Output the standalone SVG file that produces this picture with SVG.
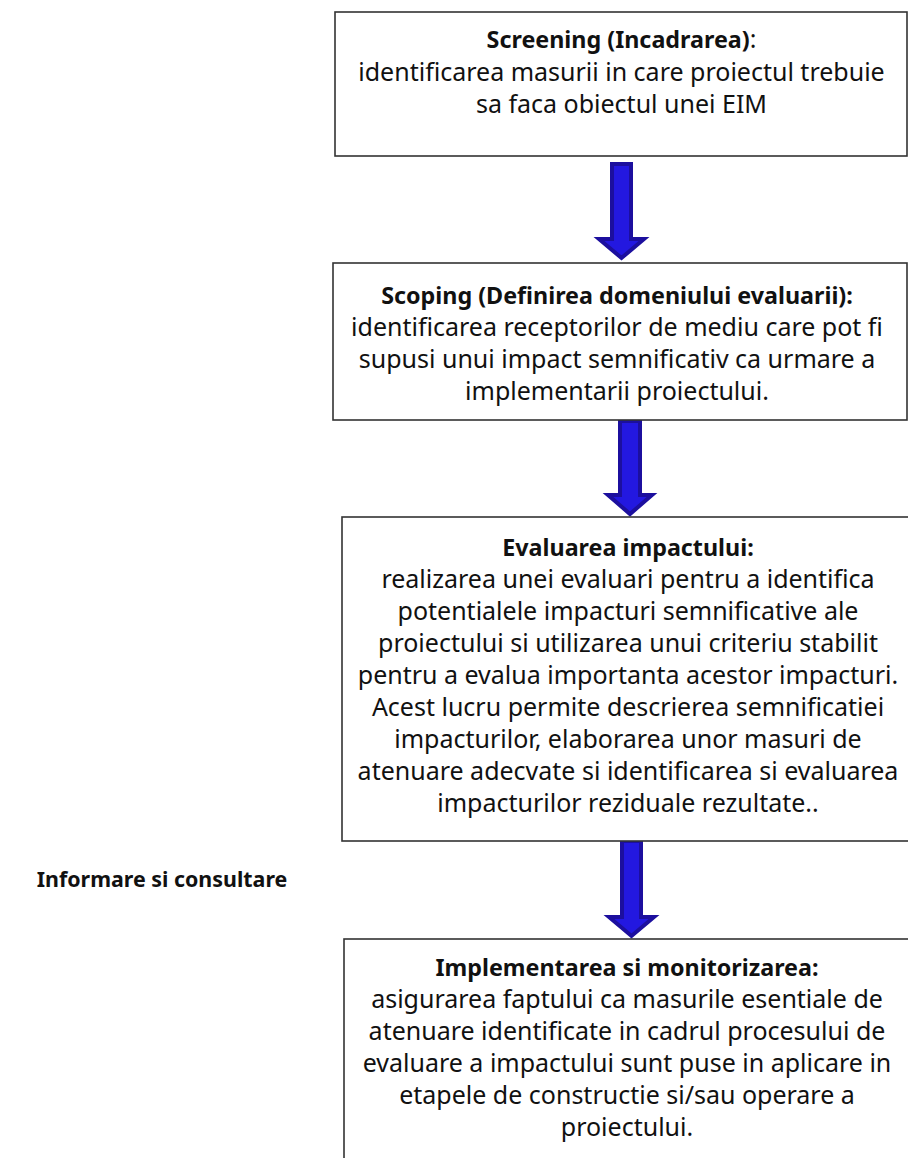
<svg xmlns="http://www.w3.org/2000/svg" width="908" height="1158" viewBox="0 0 908 1158">
<defs>
<style>
.box{fill:#ffffff;stroke:#333333;stroke-width:1.6}
.t{font-family:"Noto Sans","Open Sans","DejaVu Sans",sans-serif;font-size:25px;fill:#111111;text-anchor:middle}
.b{font-weight:bold;font-size:23.3px}
.lbl{font-weight:bold;font-size:21.4px}
.arr{fill:#2318e0;stroke:#1c0f9e;stroke-width:4;stroke-linejoin:miter}
</style>
</defs>
<rect width="908" height="1158" fill="#ffffff"/>
<g id="connectors">
<path class="arr" d="M612,164 L631,164 L631,239 L644,239 L621.5,258 L599,239 L612,239 Z"/>
<path class="arr" d="M620,421 L640,421 L640,495 L652,495 L630,514 L608,495 L620,495 Z"/>
<path class="arr" d="M622,841 L641,841 L641,917 L654,917 L631.5,936 L609,917 L622,917 Z"/>
</g>
<g id="node-screening">
<rect class="box" x="335" y="12" width="572" height="144"/>
<text class="t" x="621.5" y="48"><tspan class="b">Screening (Incadrarea)</tspan>:</text>
<text class="t" x="621.5" y="81">identificarea masurii in care proiectul trebuie</text>
<text class="t" x="621.5" y="113">sa faca obiectul unei EIM</text>
</g>
<g id="node-scoping">
<rect class="box" x="333" y="263" width="574" height="157"/>
<text class="t b" x="617" y="304">Scoping (Definirea domeniului evaluarii):</text>
<text class="t" x="617" y="336">identificarea receptorilor de mediu care pot fi</text>
<text class="t" x="617" y="368">supusi unui impact semnificativ ca urmare a</text>
<text class="t" x="617" y="400">implementarii proiectului.</text>
</g>
<g id="node-evaluare">
<rect class="box" x="342" y="517" width="600" height="324"/>
<text class="t b" x="628" y="556">Evaluarea impactului:</text>
<text class="t" x="628" y="588">realizarea unei evaluari pentru a identifica</text>
<text class="t" x="628" y="620">potentialele impacturi semnificative ale</text>
<text class="t" x="628" y="652">proiectului si utilizarea unui criteriu stabilit</text>
<text class="t" x="628" y="684">pentru a evalua importanta acestor impacturi.</text>
<text class="t" x="628" y="716">Acest lucru permite descrierea semnificatiei</text>
<text class="t" x="628" y="748">impacturilor, elaborarea unor masuri de</text>
<text class="t" x="628" y="780">atenuare adecvate si identificarea si evaluarea</text>
<text class="t" x="628" y="812">impacturilor reziduale rezultate..</text>
</g>
<g id="node-implementare">
<rect class="box" x="344" y="939" width="600" height="300"/>
<text class="t b" x="627" y="976">Implementarea si monitorizarea:</text>
<text class="t" x="627" y="1008">asigurarea faptului ca masurile esentiale de</text>
<text class="t" x="627" y="1040">atenuare identificate in cadrul procesului de</text>
<text class="t" x="627" y="1072">evaluare a impactului sunt puse in aplicare in</text>
<text class="t" x="627" y="1104">etapele de constructie si/sau operare a</text>
<text class="t" x="627" y="1136">proiectului.</text>
</g>
<g id="label-informare">
<text class="t lbl" x="162" y="887">Informare si consultare</text>
</g>
</svg>
